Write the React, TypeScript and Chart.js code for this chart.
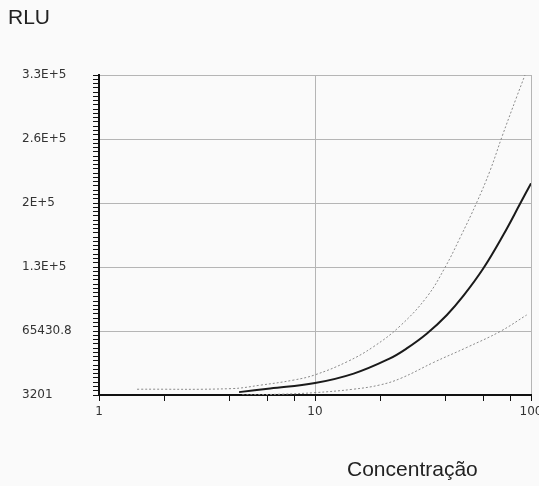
import React, { useEffect, useRef } from "react";
import { Chart, registerables } from "chart.js";

Chart.register(...registerables);

// Y axis: linear, first tick 3201, step 62229.8
const yStart = 3201;
const yStep = 62229.8;
const yTickLabels = ["3201", "65430.8", "1.3E+5", "2E+5", "2.6E+5", "3.3E+5"];
const yMinorPerStep = 15;

// X axis: logarithmic, 1..100
const xTickValues = [1, 2, 4, 6, 8, 10, 20, 40, 60, 80, 100];
const xTickLabels = ["1", "10", "100"];
const xGridValues = [10, 100];

// Middle (fitted) curve
const midX = [4.45, 6.2, 10, 15.1, 22, 26.7, 33, 40.8, 48.7, 60.2, 74.5, 89, 100];
const midY = [6000, 9500, 14800, 24000, 38300, 48750, 63000, 81050, 99780, 126400, 158960, 189080, 209000];

// Upper confidence curve
const upX = [1.5, 4.1, 5.6, 8, 10, 14.1, 18.7, 24.8, 33, 40.1, 47, 56.1, 64.7, 73.3, 85.9, 93.8];
const upY = [8800, 9400, 12800, 17800, 22800, 35600, 50300, 70400, 98800, 127660, 156300, 190500, 221600, 254000, 293200, 314350];

// Lower confidence curve
const lowX = [4.6, 7, 10, 15, 20, 25, 35.5, 50.5, 72, 95.5];
const lowY = [3300, 4000, 5500, 8800, 13000, 19500, 35000, 49500, 65000, 81000];

const toPts = (xs: number[], ys: number[]) => xs.map((x, i) => ({ x, y: ys[i] }));

export default function App() {
  const ref = useRef<HTMLCanvasElement | null>(null);

  useEffect(() => {
    document.body.style.margin = "0";
    const canvas = ref.current;
    if (!canvas) return;
    const yMax = yStart + yStep * (yTickLabels.length - 1);
    const chart = new Chart(canvas, {
      type: "line",
      data: {
        datasets: [
          {
            data: toPts(upX, upY),
            borderColor: "#8a8a8a",
            borderWidth: 1,
            borderDash: [2, 2],
            pointRadius: 0,
            tension: 0.4,
          },
          {
            data: toPts(midX, midY),
            borderColor: "#1a1a1a",
            borderWidth: 2,
            pointRadius: 0,
            tension: 0.4,
          },
          {
            data: toPts(lowX, lowY),
            borderColor: "#8a8a8a",
            borderWidth: 1,
            borderDash: [2, 2],
            pointRadius: 0,
            tension: 0.4,
          },
        ],
      },
      options: {
        responsive: false,
        animation: false,
        layout: { padding: { left: 22, top: 75, right: 8, bottom: 61 } },
        plugins: { legend: { display: false }, tooltip: { enabled: false }, title: { display: false } },
        scales: {
          x: {
            type: "logarithmic",
            min: 1,
            max: 100,
            afterBuildTicks: (scale: any) => {
              scale.ticks = xTickValues.map((v) => ({ value: v }));
            },
            afterFit: (scale: any) => {
              scale.height = 30;
              scale.paddingLeft = 0;
              scale.paddingRight = 0;
            },
            ticks: {
              autoSkip: false,
              maxRotation: 0,
              padding: 4,
              color: "#333",
              font: { family: "DejaVu Sans", size: 12 },
              callback: (v: any) => (xTickLabels.includes(String(v)) ? String(v) : ""),
            },
            grid: {
              color: (ctx: any) =>
                ctx.tick && xGridValues.includes(ctx.tick.value) ? "#b5b5b5" : "rgba(0,0,0,0)",
              tickColor: "#111",
              tickLength: 6,
              lineWidth: 1,
            },
            border: { color: "#111", width: 2 },
          },
          y: {
            type: "linear",
            min: yStart,
            max: yMax,
            afterBuildTicks: (scale: any) => {
              const n = (yTickLabels.length - 1) * yMinorPerStep;
              const t = [];
              for (let i = 0; i <= n; i++) t.push({ value: yStart + (i * yStep) / yMinorPerStep });
              scale.ticks = t;
            },
            afterFit: (scale: any) => {
              scale.width = 77;
              scale.paddingTop = 0;
              scale.paddingBottom = 0;
            },
            ticks: {
              autoSkip: false,
              crossAlign: "far",
              color: "#333",
              font: { family: "DejaVu Sans", size: 12 },
              callback: (_v: any, i: number) =>
                i % yMinorPerStep === 0 ? yTickLabels[i / yMinorPerStep] : "",
            },
            grid: {
              color: (ctx: any) =>
                ctx.index % yMinorPerStep === 0 && ctx.index > 0 ? "#b5b5b5" : "rgba(0,0,0,0)",
              tickColor: "#111",
              tickLength: 6,
              lineWidth: 1,
            },
            border: { color: "#111", width: 2 },
          },
        },
      },
    });
    return () => chart.destroy();
  }, []);

  return (
    <div
      style={{
        position: "fixed",
        left: 0,
        top: 0,
        width: 539,
        height: 486,
        background: "#fafafa",
        overflow: "hidden",
      }}
    >
      <canvas ref={ref} width={539} height={486} style={{ position: "absolute", left: 0, top: 0 }} />
      <div
        style={{
          position: "absolute",
          left: 8,
          top: 5,
          font: "21px 'Liberation Sans', Arial, sans-serif",
          color: "#222",
        }}
      >
        RLU
      </div>
      <div
        style={{
          position: "absolute",
          left: 347,
          top: 457,
          font: "21px 'Liberation Sans', Arial, sans-serif",
          color: "#222",
          whiteSpace: "nowrap",
        }}
      >
        Concentração
      </div>
    </div>
  );
}
